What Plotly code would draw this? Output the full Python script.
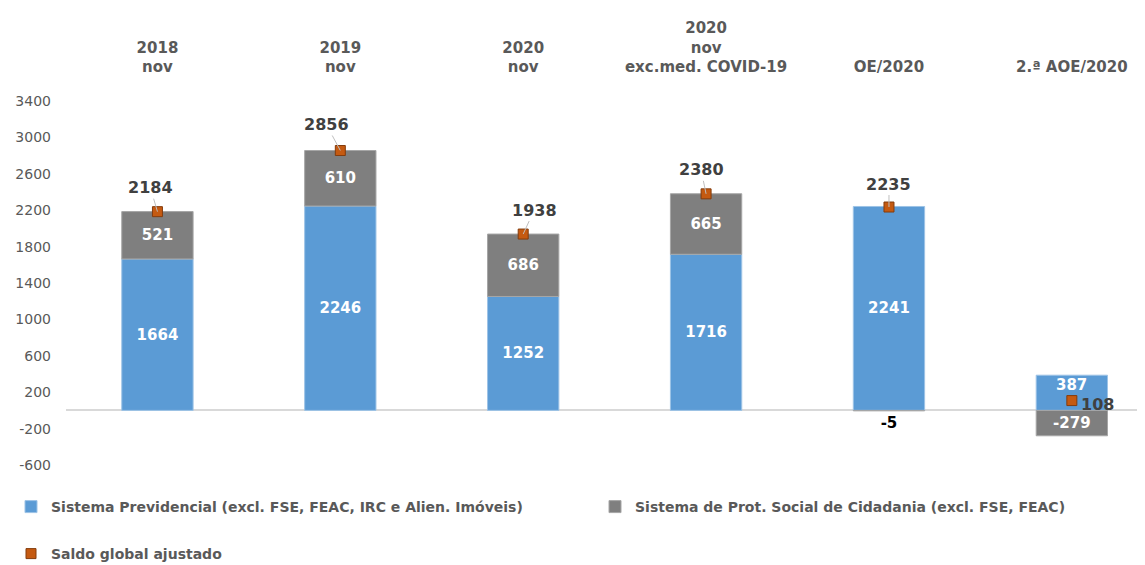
import plotly.graph_objects as go

# data
categories = ["2018<br>nov", "2019<br>nov", "2020<br>nov",
              "2020<br>nov<br>exc.med. COVID-19", "OE/2020", "2.ª AOE/2020"]
previdencial = [1664, 2246, 1252, 1716, 2241, 387]
cidadania = [521, 610, 686, 665, -5, -279]
saldo = [2184, 2856, 1938, 2380, 2235, 108]

y_ticks = [-600, -200, 200, 600, 1000, 1400, 1800, 2200, 2600, 3000, 3400]
y_ticklabels = ["-600", "-200", "200", "600", "1000", "1400", "1800",
                "2200", "2600", "3000", "3400"]

name_prev = "Sistema Previdencial (excl. FSE, FEAC, IRC e Alien. Imóveis)"
name_cid = "Sistema de Prot. Social de Cidadania (excl. FSE, FEAC)"
name_saldo = "Saldo global ajustado"

# label offsets (pixels) for the saldo labels, relative to their marker
label_dx = [-7, -14, 11, -5, 0, 26]
label_dy = [-24, -26, -24, -24, -23, 4]

FONT = "DejaVu Sans"
GREY = "#595959"
# the page body keeps an 8px margin, so the figure is 8px smaller
W, H = 1137, 557
ML, MT, MB = 58, 80, 100
plot_h = H - MT - MB


def paper_x(px):
    return (px - ML) / (W - ML)


def paper_y(py):
    return (H - MB - py) / plot_h


fig = go.Figure()

# the last blue label sits near the top of its short bar (added below)
prev_text = [str(v) for v in previdencial[:-1]] + [""]
fig.add_trace(go.Bar(
    x=categories, y=previdencial, name=name_prev,
    marker=dict(color="#5B9BD5", line=dict(color="#9DC3E6", width=1)),
    width=0.39,
    text=prev_text,
    textposition="inside", insidetextanchor="middle",
    textfont=dict(color="white", size=15, family=FONT, weight="bold"),
    constraintext="none",
    legend="legend",
))

cid_pos = ["outside" if abs(v) < 20 else "inside" for v in cidadania]
fig.add_trace(go.Bar(
    x=categories, y=cidadania, name=name_cid,
    marker=dict(color="#7F7F7F", line=dict(color="#A6A6A6", width=1)),
    width=0.39,
    text=[str(v) for v in cidadania],
    textposition=cid_pos, insidetextanchor="middle",
    textfont=dict(color="white", size=15, family=FONT, weight="bold"),
    outsidetextfont=dict(color="black", size=15, family=FONT, weight="bold"),
    constraintext="none", cliponaxis=False,
    legend="legend3",
))

fig.add_trace(go.Scatter(
    x=categories, y=saldo, name=name_saldo, mode="markers",
    marker=dict(symbol="square", size=10, color="#C55A11",
                line=dict(color="#843C0C", width=1)),
    legend="legend2",
))

fig.add_annotation(
    x=categories[-1], y=previdencial[-1], text=str(previdencial[-1]),
    showarrow=False, yanchor="top", yshift=1,
    font=dict(color="white", size=15, family=FONT, weight="bold"),
)

for i, (c, v) in enumerate(zip(categories, saldo)):
    fig.add_annotation(
        x=c, y=v, text=str(v), ax=label_dx[i], ay=label_dy[i],
        showarrow=True, arrowhead=0, arrowwidth=1,
        arrowcolor="#BFBFBF" if i < 5 else "rgba(0,0,0,0)",
        font=dict(color="#404040", size=16, family=FONT, weight="bold"),
    )

legend_font = dict(size=14, color=GREY, family=FONT, weight="bold")
fig.update_layout(
    width=W, height=H,
    barmode="relative",
    showlegend=True,
    plot_bgcolor="white", paper_bgcolor="white",
    margin=dict(l=ML, r=0, t=MT, b=MB, autoexpand=False),
    font=dict(family=FONT, color=GREY),
    legend=dict(orientation="h", x=paper_x(3), y=paper_y(483),
                xanchor="left", yanchor="top", font=legend_font, itemwidth=30),
    legend3=dict(orientation="h", x=paper_x(587), y=paper_y(483),
                 xanchor="left", yanchor="top", font=legend_font, itemwidth=30),
    legend2=dict(orientation="h", x=paper_x(3), y=paper_y(530),
                 xanchor="left", yanchor="top", font=legend_font, itemwidth=30),
)

fig.update_xaxes(
    side="top", range=[-0.5, 5.4], showgrid=False, showline=False,
    ticks="", automargin=False, ticklabelstandoff=12,
    tickfont=dict(size=15, color=GREY, family=FONT, weight="bold"),
)
fig.update_yaxes(
    range=[-600, 3543], tickvals=y_ticks, ticktext=y_ticklabels,
    showgrid=False, automargin=False,
    zeroline=True, zerolinecolor="#D9D9D9", zerolinewidth=2,
    tickfont=dict(size=14, color=GREY, family=FONT),
    ticklabelstandoff=14,
)

fig.write_html("out.html")
